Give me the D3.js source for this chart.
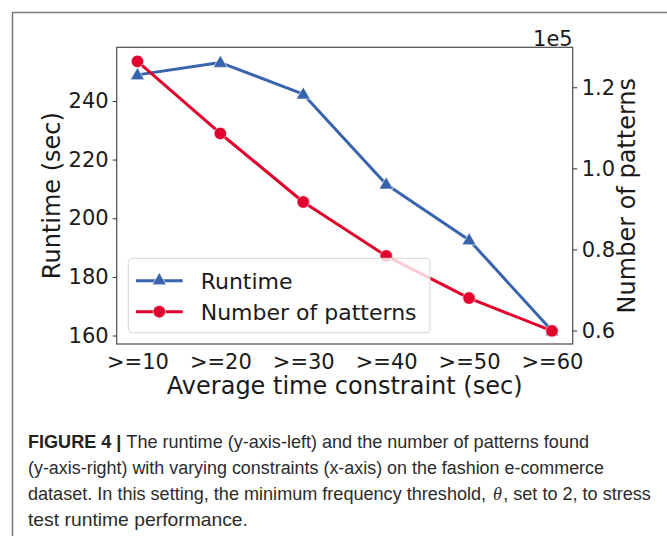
<!DOCTYPE html>
<html>
<head>
<meta charset="utf-8">
<script src="https://cdn.jsdelivr.net/npm/d3@7/dist/d3.min.js"></script>
<style>
  html, body { margin: 0; padding: 0; background: #fff; }
  svg { display: block; }
</style>
</head>
<body>
<svg id="chart" width="667" height="536"></svg>
<script>
// ---- data ----
const categories = [">=10", ">=20", ">=30", ">=40", ">=50", ">=60"];
const runtime = [248.9, 253.1, 242.3, 211.6, 192.6, 161.6];
const patterns = [126400, 108600, 91700, 78400, 68000, 59900];
const leftTicks = [160, 180, 200, 220, 240];
const rightTicks = [60000, 80000, 100000, 120000];
const seriesNames = ["Runtime", "Number of patterns"];
const xTitle = "Average time constraint (sec)";
const yLeftTitle = "Runtime (sec)";
const yRightTitle = "Number of patterns";
const captionLines = [
  [{t: "FIGURE 4 |", b: true}, {t: "\u00A0The runtime (y-axis-left) and the number of patterns found"}],
  [{t: "(y-axis-right) with varying constraints (x-axis) on the fashion e-commerce"}],
  [{t: "dataset. In this setting, the minimum frequency threshold,\u00A0"}, {t: "\u03B8", i: true}, {t: ", set to 2, to stress"}],
  [{t: "test runtime performance."}]
];

// ---- style ----
const BLUE = "#3864ad";
const RED = "#e2002c";
const FONT = "DejaVu Sans, sans-serif";
const plot = {left: 116.7, right: 572.7, top: 47.3, bottom: 344};

const svg = d3.select("#chart");

// figure border
svg.append("path")
  .attr("d", "M12.5,536 V12.5 H667")
  .attr("fill", "none").attr("stroke", "#7a7a7a").attr("stroke-width", 1.5);

// scales
const x = d3.scalePoint().domain(categories).range([plot.left, plot.right]).padding(0.25);
const yL = d3.scaleLinear().domain([157.1, 258.3]).range([plot.bottom, plot.top]);
const yR = d3.scaleLinear().domain([56670, 129860]).range([plot.bottom, plot.top]);

// spines
svg.append("rect")
  .attr("x", plot.left).attr("y", plot.top)
  .attr("width", plot.right - plot.left).attr("height", plot.bottom - plot.top)
  .attr("fill", "none").attr("stroke", "#4a4a4a").attr("stroke-width", 1.2);

// left axis
const gL = svg.append("g").attr("transform", `translate(${plot.left},0)`)
  .call(d3.axisLeft(yL).tickValues(leftTicks).tickSize(4).tickPadding(4).tickFormat(d3.format("d")));
gL.select(".domain").remove();
gL.selectAll(".tick line").attr("stroke", "#333").attr("stroke-width", 1);
gL.selectAll(".tick text").attr("font-family", FONT).attr("font-size", 21).attr("fill", "#1a1a1a");

// right axis
const gR = svg.append("g").attr("transform", `translate(${plot.right},0)`)
  .call(d3.axisRight(yR).tickValues(rightTicks).tickSize(4.5).tickPadding(4.5).tickFormat(d => (d / 1e5).toFixed(1)));
gR.select(".domain").remove();
gR.selectAll(".tick line").attr("stroke", "#333").attr("stroke-width", 1);
gR.selectAll(".tick text").attr("font-family", FONT).attr("font-size", 21).attr("fill", "#1a1a1a");

// x axis
const gX = svg.append("g").attr("transform", `translate(0,${plot.bottom})`)
  .call(d3.axisBottom(x).tickSize(0).tickPadding(0));
gX.select(".domain").remove();
gX.selectAll(".tick text").attr("font-family", FONT).attr("font-size", 21).attr("fill", "#1a1a1a")
  .attr("dy", null).attr("y", 25.3);

// offset text
svg.append("text").attr("x", plot.right).attr("y", 45.5).attr("text-anchor", "end")
  .attr("font-family", FONT).attr("font-size", 21).attr("fill", "#1a1a1a").text("1e5");

// axis titles
svg.append("text").attr("x", (plot.left + plot.right) / 2).attr("y", 394)
  .attr("text-anchor", "middle").attr("font-family", FONT).attr("font-size", 24).attr("fill", "#1a1a1a")
  .text(xTitle);
svg.append("text").attr("transform", `translate(59.5,${(plot.top + plot.bottom) / 2}) rotate(-90)`)
  .attr("text-anchor", "middle").attr("font-family", FONT).attr("font-size", 24).attr("fill", "#1a1a1a")
  .text(yLeftTitle);
svg.append("text").attr("transform", `translate(635,${(plot.top + plot.bottom) / 2}) rotate(-90)`)
  .attr("text-anchor", "middle").attr("font-family", FONT).attr("font-size", 24).attr("fill", "#1a1a1a")
  .text(yRightTitle);

// markers
const tri = d3.symbol().type(d3.symbolTriangle).size(85);
function drawSeries(vals, yScale, color, kind) {
  const pts = categories.map((c, i) => [x(c), yScale(vals[i])]);
  svg.append("path").attr("d", d3.line()(pts))
    .attr("fill", "none").attr("stroke", color).attr("stroke-width", 3).attr("stroke-linejoin", "round");
  pts.forEach(p => {
    if (kind === "tri") {
      svg.append("path").attr("d", tri()).attr("transform", `translate(${p[0]},${p[1] + 0.8})`)
        .attr("fill", color).attr("stroke", "#fff").attr("stroke-width", 0.6);
    } else {
      svg.append("circle").attr("cx", p[0]).attr("cy", p[1]).attr("r", 6.2)
        .attr("fill", color).attr("stroke", "#fff").attr("stroke-width", 0.6);
    }
  });
}
drawSeries(runtime, yL, BLUE, "tri");
drawSeries(patterns, yR, RED, "circle");

// legend
const lg = svg.append("g");
lg.append("rect").attr("x", 128.3).attr("y", 258.3).attr("width", 430 - 128.3).attr("height", 332.7 - 258.3)
  .attr("rx", 4).attr("fill", "#fff").attr("fill-opacity", 0.8).attr("stroke", "#d6d6d6").attr("stroke-width", 1);
const legendItems = [
  {name: seriesNames[0], color: BLUE, kind: "tri", y: 280.7},
  {name: seriesNames[1], color: RED, kind: "circle", y: 311.7}
];
legendItems.forEach(it => {
  lg.append("line").attr("x1", 136).attr("x2", 182.7).attr("y1", it.y).attr("y2", it.y)
    .attr("stroke", it.color).attr("stroke-width", 3);
  if (it.kind === "tri") {
    lg.append("path").attr("d", tri()).attr("transform", `translate(159.3,${it.y})`)
      .attr("fill", it.color).attr("stroke", "#fff").attr("stroke-width", 0.6);
  } else {
    lg.append("circle").attr("cx", 159.3).attr("cy", it.y).attr("r", 6.2)
      .attr("fill", it.color).attr("stroke", "#fff").attr("stroke-width", 0.6);
  }
  lg.append("text").attr("x", 200.7).attr("y", it.y + 7.8)
    .attr("font-family", FONT).attr("font-size", 22).attr("fill", "#1a1a1a").text(it.name);
});

// caption: each part is its own text, placed side by side and squeezed to the target width
const capBase = [448, 474.3, 500.3, 526.3];
const capLen = [561, 576, 623, 220];
captionLines.forEach((parts, i) => {
  const nodes = parts.map(p => {
    const t = svg.append("text").attr("x", 0).attr("y", 0)
      .attr("font-family", p.i ? "Liberation Serif, serif" : "Liberation Sans, Arial, sans-serif")
      .attr("font-size", 18.6).attr("fill", p.b ? "#222" : "#2b2b2b")
      .attr("xml:space", "preserve")
      .text(p.t);
    if (p.b) t.attr("font-weight", "bold");
    if (p.i) t.attr("font-style", "italic");
    return t;
  });
  const widths = nodes.map(n => n.node().getComputedTextLength());
  const gaps = parts.map(p => p.i ? 1.5 : 0);
  const total = d3.sum(widths) + d3.sum(gaps) * 2;
  const sx = capLen[i] / total;
  let cur = 28;
  nodes.forEach((n, j) => {
    cur += gaps[j] * sx;
    n.attr("transform", `translate(${cur},${capBase[i]}) scale(${sx},1)`);
    cur += (widths[j] + gaps[j]) * sx;
  });
});
</script>
</body>
</html>
